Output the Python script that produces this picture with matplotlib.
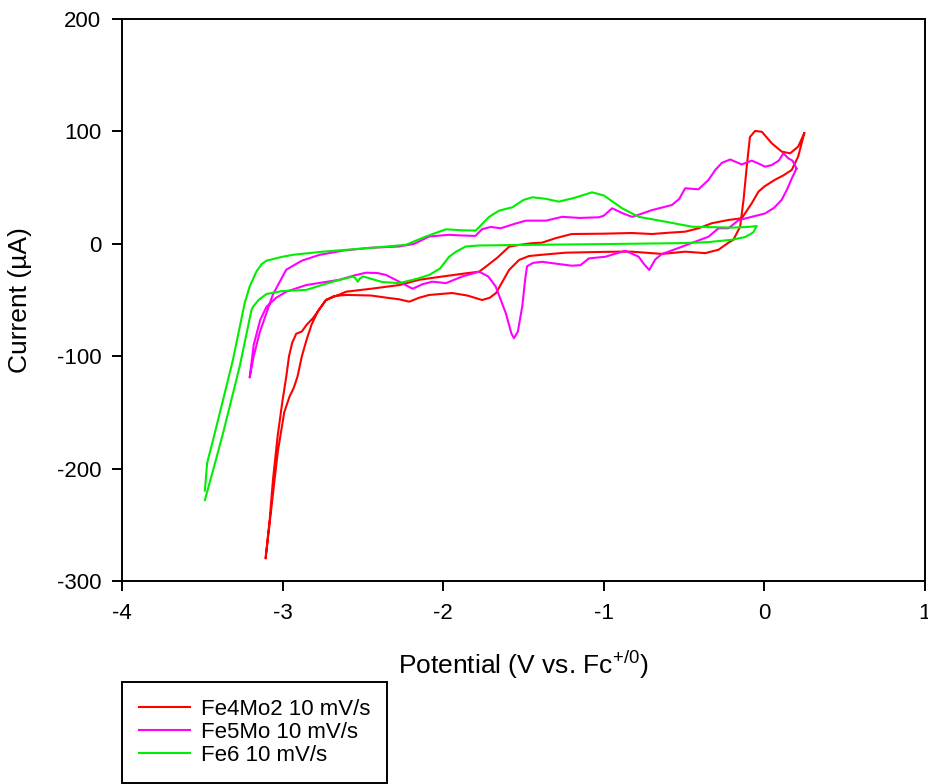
import matplotlib.pyplot as plt

plt.rcParams['font.family'] = ['Liberation Sans', 'DejaVu Sans']
plt.rcParams['mathtext.fontset'] = 'custom'
plt.rcParams['mathtext.rm'] = 'Liberation Sans'
plt.rcParams['mathtext.default'] = 'rm'
plt.rcParams['axes.unicode_minus'] = False

# Fe4Mo2 10 mV/s - one closed loop (upper branch right->left, then lower branch left->right)
fe4mo2_x = [0.248, 0.21, 0.17, 0.12, 0.066, 0.0, -0.037, -0.079, -0.141, -0.224, -0.327, -0.41,
            -0.493, -0.6, -0.7, -0.826, -1.0, -1.2, -1.3, -1.385, -1.45, -1.528, -1.59, -1.66,
            -1.735, -1.776, -1.86, -2.0, -2.149, -2.273, -2.45, -2.604, -2.66, -2.73, -2.78,
            -2.81, -2.85, -2.88, -2.915, -2.94, -2.96, -2.977, -3.0, -3.03, -3.06, -3.08, -3.106,
            -3.07, -3.03, -2.99, -2.957, -2.93, -2.907, -2.88, -2.85, -2.82, -2.78, -2.73, -2.68,
            -2.604, -2.45, -2.35, -2.273, -2.211, -2.15, -2.087, -1.944, -1.85, -1.758, -1.71,
            -1.671, -1.59, -1.528, -1.466, -1.404, -1.238, -1.0, -0.907, -0.826, -0.638, -0.493,
            -0.369, -0.286, -0.224, -0.193, -0.151, -0.13, -0.11, -0.09, -0.058, -0.016, 0.046,
            0.108, 0.16, 0.21, 0.248]
fe4mo2_y = [98.3, 77.5, 65.7, 61, 57, 51, 46.4, 36, 22.7, 21.2, 18.3, 13.8,
            10.8, 9.8, 8.7, 9.6, 9.0, 8.7, 5, 1.0, 0.5, -1, -2.6, -12,
            -20.4, -24.8, -26.3, -29, -32, -36.7, -40, -42.6, -46, -50, -60,
            -66, -72, -78, -80, -88, -100, -118, -139, -170, -210, -245, -280,
            -235, -185, -150, -136, -128, -118, -100, -85, -72, -60, -50, -46.5,
            -45.5, -46, -48, -49.4, -51.5, -48, -45.5, -43.8, -46, -50, -48,
            -43.8, -23.3, -14.4, -10.9, -10, -7.9, -7.2, -7, -7, -9, -7,
            -8.3, -5.3, 1, 3.6, 15.3, 39, 68.6, 95, 100.4, 99.7, 89.4,
            82, 80.5, 86.4, 98.3]

# Fe5Mo 10 mV/s
fe5mo_x = [0.2, 0.175, 0.149, 0.118, 0.09, 0.045, 0.004, -0.03, -0.079, -0.141, -0.213, -0.265,
           -0.306, -0.348, -0.41, -0.493, -0.53, -0.576, -0.7, -0.78, -0.824, -0.88, -0.948,
           -1.0, -1.03, -1.15, -1.259, -1.36, -1.485, -1.55, -1.642, -1.704, -1.758, -1.8, -1.9,
           -1.963, -2.087, -2.18, -2.273, -2.46, -2.62, -2.77, -2.88, -2.977, -3.06, -3.143,
           -3.18, -3.205,
           -3.18, -3.14, -3.1, -3.04, -2.977, -2.853, -2.646, -2.55, -2.48, -2.41, -2.356, -2.27,
           -2.19, -2.13, -2.068, -1.983, -1.88, -1.776, -1.72, -1.673, -1.61, -1.575, -1.559,
           -1.535, -1.507, -1.49, -1.478, -1.44, -1.385, -1.28, -1.2, -1.145, -1.093, -0.99,
           -0.866, -0.783, -0.75, -0.717, -0.68, -0.638, -0.597, -0.514, -0.41, -0.348, -0.286,
           -0.224, -0.161, 0.004, 0.06, 0.107, 0.14, 0.17, 0.2]
fe5mo_y = [67, 74, 76, 80.5, 74, 70, 68.6, 71, 74, 70.6, 75, 72,
           65.7, 56.8, 48.5, 49.4, 40, 34.5, 30, 26, 24, 27, 31.6,
           25, 23.6, 23, 24, 20.6, 20.6, 18, 13.8, 15, 13, 7, 7.5,
           8, 6.5, 0, -2.4, -3.6, -6, -9.8, -15, -23, -45, -79,
           -100, -119,
           -90, -68, -56, -48, -42.6, -36.7, -32, -28, -25.7, -26, -27.7, -34,
           -40, -36, -33.7, -35, -29, -24.8, -29, -38, -61.8, -80, -84,
           -78, -55, -32, -20, -17, -16, -18, -19.5, -19, -13, -11.5,
           -6.2, -11.5, -18, -23.3, -14, -9, -7, -2.6, 3, 6.3, 13.8,
           13.8, 21, 27, 32, 39, 48, 58, 67]

# Fe6 10 mV/s
fe6_x = [-3.484, -3.47, -3.433, -3.371, -3.309, -3.236, -3.205, -3.163, -3.13, -3.1, -3.0, -2.936,
         -2.75, -2.563, -2.4, -2.232, -2.108, -1.983, -1.88, -1.797, -1.714, -1.652, -1.569, -1.5,
         -1.445, -1.36, -1.28, -1.18, -1.073, -1.0, -0.886, -0.783, -0.617, -0.451, -0.203, -0.1,
         -0.048,
         -0.07, -0.12, -0.203, -0.35, -0.514, -1.03, -1.5, -1.776, -1.86, -1.92, -1.963, -2.02,
         -2.087, -2.16, -2.273, -2.38, -2.5, -2.52, -2.532, -2.55, -2.563, -2.688, -2.853, -3.0,
         -3.1, -3.15, -3.184, -3.194, -3.267, -3.371, -3.43, -3.484]
fe6_y = [-219.6, -195, -174.5, -139, -103, -52.7, -38, -24.7, -18, -15, -11.5, -9.8,
         -7, -4.9, -3, -0.9, 6.5, 12.9, 12, 11.8, 24, 29.5, 32.5, 39,
         41.4, 40, 37.5, 41, 45.8, 43, 31.6, 24, 19.7, 15.2, 14.4, 15,
         15.8,
         10, 6, 3.6, 1.5, 0.6, -0.3, -1, -1.5, -2.4, -7, -11.5, -22,
         -27.7, -31, -35, -34, -29, -31, -33.7, -30, -29.2, -33.7, -41, -42,
         -44.7, -50, -56, -59, -109, -168.6, -200, -228]

labels = ['Fe4Mo2 10 mV/s', 'Fe5Mo 10 mV/s', 'Fe6 10 mV/s']
colors = ['#ff0000', '#ff00ff', '#00ee00']

x_ticks = [-4, -3, -2, -1, 0, 1]
y_ticks = [-300, -200, -100, 0, 100, 200]

fig = plt.figure(figsize=(9.29, 7.84), dpi=100)
ax = fig.add_axes([122/929, 1 - 581/784, (925-122)/929, (581-19)/784])

for xs, ys, lab, col in zip([fe4mo2_x, fe5mo_x, fe6_x], [fe4mo2_y, fe5mo_y, fe6_y], labels, colors):
    ax.plot(xs, ys, color=col, lw=1.5, label=lab)

ax.set_xlim(-4, 1)
ax.set_ylim(-300, 200)
ax.set_xticks(x_ticks)
ax.set_yticks(y_ticks)
ax.tick_params(direction='out', length=7, width=1.4, labelsize=16)
ax.tick_params(axis='x', pad=9)
ax.tick_params(axis='y', pad=8)
for s in ax.spines.values():
    s.set_linewidth(1.4)

ax.set_xlabel('Potential (V vs. Fc$^{+/0}$)', fontsize=19, labelpad=18)
ax.set_ylabel('Current (µA)', fontsize=19, labelpad=18)

leg = fig.legend(loc='upper left', bbox_to_anchor=(122/929, 1 - 682/784), borderaxespad=0,
                 fontsize=16, handlelength=2.3, handletextpad=0.5, borderpad=0.75,
                 labelspacing=0.1, fancybox=False, framealpha=1)
leg.get_frame().set_edgecolor('black')
leg.get_frame().set_linewidth(1.4)

plt.savefig('out.png', dpi=100)
